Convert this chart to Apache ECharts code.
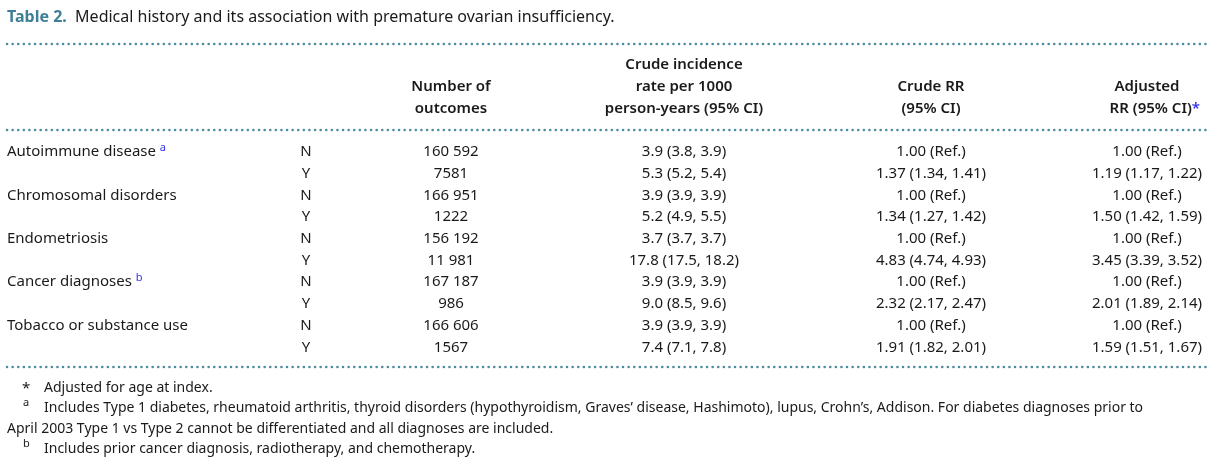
<!DOCTYPE html>
<html><head><meta charset="utf-8">
<script src="https://cdn.jsdelivr.net/npm/echarts@6/dist/echarts.min.js"></script>
<style>html,body{margin:0;padding:0;background:#fff}#c{width:1223px;height:460px}</style>
</head><body><div id="c"></div>
<script>
const categories = ["Autoimmune disease", "Chromosomal disorders", "Endometriosis", "Cancer diagnoses", "Tobacco or substance use"];
const categoryNotes = ["a", "", "", "b", ""];
const groups = ["N", "Y"];
const outcomes = [["160 592","7581"],["166 951","1222"],["156 192","11 981"],["167 187","986"],["166 606","1567"]];
const incidence = [["3.9 (3.8, 3.9)","5.3 (5.2, 5.4)"],["3.9 (3.9, 3.9)","5.2 (4.9, 5.5)"],["3.7 (3.7, 3.7)","17.8 (17.5, 18.2)"],["3.9 (3.9, 3.9)","9.0 (8.5, 9.6)"],["3.9 (3.9, 3.9)","7.4 (7.1, 7.8)"]];
const crudeRR = [["1.00 (Ref.)","1.37 (1.34, 1.41)"],["1.00 (Ref.)","1.34 (1.27, 1.42)"],["1.00 (Ref.)","4.83 (4.74, 4.93)"],["1.00 (Ref.)","2.32 (2.17, 2.47)"],["1.00 (Ref.)","1.91 (1.82, 2.01)"]];
const adjRR = [["1.00 (Ref.)","1.19 (1.17, 1.22)"],["1.00 (Ref.)","1.50 (1.42, 1.59)"],["1.00 (Ref.)","3.45 (3.39, 3.52)"],["1.00 (Ref.)","2.01 (1.89, 2.14)"],["1.00 (Ref.)","1.59 (1.51, 1.67)"]];
const headers = [["Number of","outcomes"],["Crude incidence","rate per 1000","person-years (95% CI)"],["Crude RR","(95% CI)"],["Adjusted","RR (95% CI)"]];
const footnotes = [["*","Adjusted for age at index."],["a","Includes Type 1 diabetes, rheumatoid arthritis, thyroid disorders (hypothyroidism, Graves’ disease, Hashimoto), lupus, Crohn’s, Addison. For diabetes diagnoses prior to"],["","April 2003 Type 1 vs Type 2 cannot be differentiated and all diagnoses are included."],["b","Includes prior cancer diagnosis, radiotherapy, and chemotherapy."]];

const F = '"Noto Sans","Open Sans",sans-serif';
const C = '#1a1a1a', TEAL = '#4a8ca0', BLUE = '#3333ee';
const g = [];
function t(x, y, s, o) { g.push({type:'text', x, y, style:Object.assign({text:s, fill:C, font:'15px '+F, textVerticalAlign:'middle', textAlign:'left'}, o||{})}); }
function dots(y) { g.push({type:'line', shape:{x1:7,y1:y,x2:1210,y2:y}, style:{stroke:TEAL, lineWidth:2.5, lineDash:[0.1,5.5], lineCap:'round'}}); }

g.push({type:'text', x:7, y:17, style:{rich:{b:{fill:'#3d7f95', font:'bold 16px '+F}, n:{fill:C, font:'16px '+F}}, text:'{b|Table 2.}{n|  Medical history and its association with premature ovarian insufficiency.}', textVerticalAlign:'middle'}});
dots(44); dots(130); dots(367);

const colX = [451, 684, 931, 1147];
const hY = [[87,109],[65,87,109],[87,109],[87,109]];
headers.forEach((h,i)=>h.forEach((s,j)=>{
  if (i===3 && j===1) {
    g.push({type:'text', x:1200, y:hY[i][j], style:{rich:{n:{fill:C,font:'600 15px '+F}, s:{fill:BLUE,font:'600 15px '+F}}, text:'{n|'+s+'}{s|*}', textAlign:'right', textVerticalAlign:'middle'}});
  } else t(colX[i], hY[i][j], s, {font:'600 15px '+F, textAlign:'center'});
}));

const y0 = 152, dy = 21.7;
categories.forEach((c,i)=>{
  const y = y0 + i*2*dy;
  const nt = categoryNotes[i];
  if (nt) g.push({type:'text', x:7, y, style:{rich:{n:{fill:C,font:'15px '+F}, s:{fill:BLUE, font:'11px '+F, verticalAlign:'top', padding:[0,0,8,0]}}, text:'{n|'+c+' }{s|'+nt+'}', textVerticalAlign:'middle'}});
  else t(7, y, c);
  groups.forEach((gr,j)=>{
    const yy = y + j*dy;
    t(306, yy, gr, {textAlign:'center'});
    t(colX[0], yy, outcomes[i][j], {textAlign:'center'});
    t(colX[1], yy, incidence[i][j], {textAlign:'center'});
    t(colX[2], yy, crudeRR[i][j], {textAlign:'center'});
    t(colX[3], yy, adjRR[i][j], {textAlign:'center'});
  });
});

const fy = [388, 408, 429, 449];
footnotes.forEach((f,i)=>{
  if (f[0]==='*') t(22, fy[i]+1, '*', {font:'15px '+F});
  else if (f[0]) t(23, fy[i]-5, f[0], {font:'11px '+F});
  t(f[0] ? 44 : 7, fy[i], f[1], {font:'14px '+F});
});

const chart = echarts.init(document.getElementById('c'));
chart.setOption({animation:false, graphic:g});
</script></body></html>
